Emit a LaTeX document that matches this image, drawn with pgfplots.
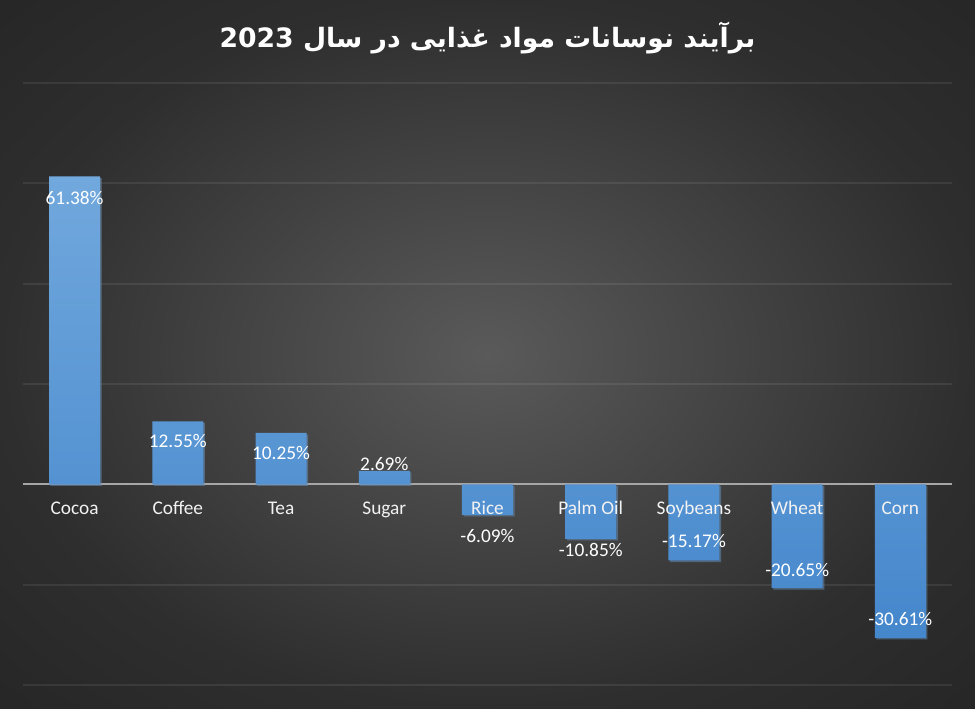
\documentclass[border=0pt]{standalone}
\usepackage{pgfplots}
\pgfplotsset{compat=1.18}
\usepackage{pgfplotstable}
\usetikzlibrary{shadows}
\usepackage{fontspec}
\setmainfont{Carlito}
\newfontfamily\arabicfont[Script=Arabic]{DejaVu Sans}
\TeXXeTstate=1

\definecolor{bgin}{HTML}{5A5A5A}
\definecolor{bgmid}{HTML}{2E2E2E}
\definecolor{bgout}{HTML}{262626}
\definecolor{bartop}{HTML}{71A8DD}
\definecolor{barbot}{HTML}{4587CC}
\definecolor{zeroline}{HTML}{A6A6A6}
\definecolor{labtext}{HTML}{F2F2F2}

\pgfdeclareradialshading{chartbg}{\pgfpoint{0bp}{0bp}}{color(0bp)=(bgin); color(25bp)=(bgmid); color(36bp)=(bgout); color(50bp)=(bgout)}

\pgfplotsset{
    foodbase/.style={
        scale only axis,
        width=696.75pt, height=451.5pt,
        xmin=-0.5, xmax=8.5,
        ymin=-40, ymax=80,
        axis x line*=middle,
        axis y line*=left,
        y axis line style={draw=none},
        major tick length=0pt,
        xtick={0,...,8},
        ytick={-40,-20,...,80},
        yticklabels={},
    },
}

% x = position, y = change in %, lo = label offset (in %) from bar end
\pgfplotstableread{
x y lo lab
0 61.38 -4.2 61.38
1 12.55 -4.0 12.55
2 10.25 -4.1 10.25
3 2.69 1.3 2.69
4 -6.09 -4.2 -6.09
5 -10.85 -2.3 -10.85
6 -15.17 3.8 -15.17
7 -20.65 3.6 -20.65
8 -30.61 3.7 -30.61
}\foodtable

\newcommand{\charttitle}{\arabicfont\bfseries\beginR برآیند نوسانات مواد غذایی در سال \beginL 2023\endL\endR}

\begin{document}
\begin{tikzpicture}
\shade[shading=chartbg] (-17.25pt,-17.25pt) rectangle (714pt,513.75pt);
% bars, grid, zero line and value labels
\begin{axis}[
    foodbase,
    ybar, bar width=38.25pt, bar shift=0pt,
    x axis line style={draw=zeroline, line width=1.5pt},
    xticklabels={},
    ymajorgrids,
    grid style={draw=white, draw opacity=0.08, line width=1.5pt},
    nodes near coords={\pgfplotspointmeta\%},
    point meta=explicit symbolic,
    visualization depends on={\thisrow{lo} \as \labeloff},
    every node near coord/.append style={anchor=center, text=white,
        font=\fontsize{14.5}{17}\selectfont,
        shift={(axis direction cs:0,\labeloff)}},
    title={\charttitle},
    title style={at={(axis description cs:0.5,1)}, anchor=center, yshift=27.75pt,
        text=white, font=\fontsize{20}{24}\selectfont},
]
\addplot[draw=none, top color=bartop, bottom color=barbot,
    drop shadow={opacity=0.35, shadow xshift=1.2pt, shadow yshift=-1.2pt}]
    table[x=x, y=y, meta=lab] {\foodtable};
\end{axis}
% category names, drawn over the bars
\begin{axis}[
    foodbase,
    x axis line style={draw=none},
    xticklabels={Cocoa,Coffee,Tea,Sugar,Rice,Palm Oil,Soybeans,Wheat,Corn},
    xticklabel style={text=labtext, font=\fontsize{14.5}{17}\selectfont, anchor=base, yshift=-22.7pt},
]
\end{axis}
\pgfresetboundingbox
\path (-17.25pt,-17.25pt) rectangle (714pt,513.75pt);
\end{tikzpicture}
\end{document}
